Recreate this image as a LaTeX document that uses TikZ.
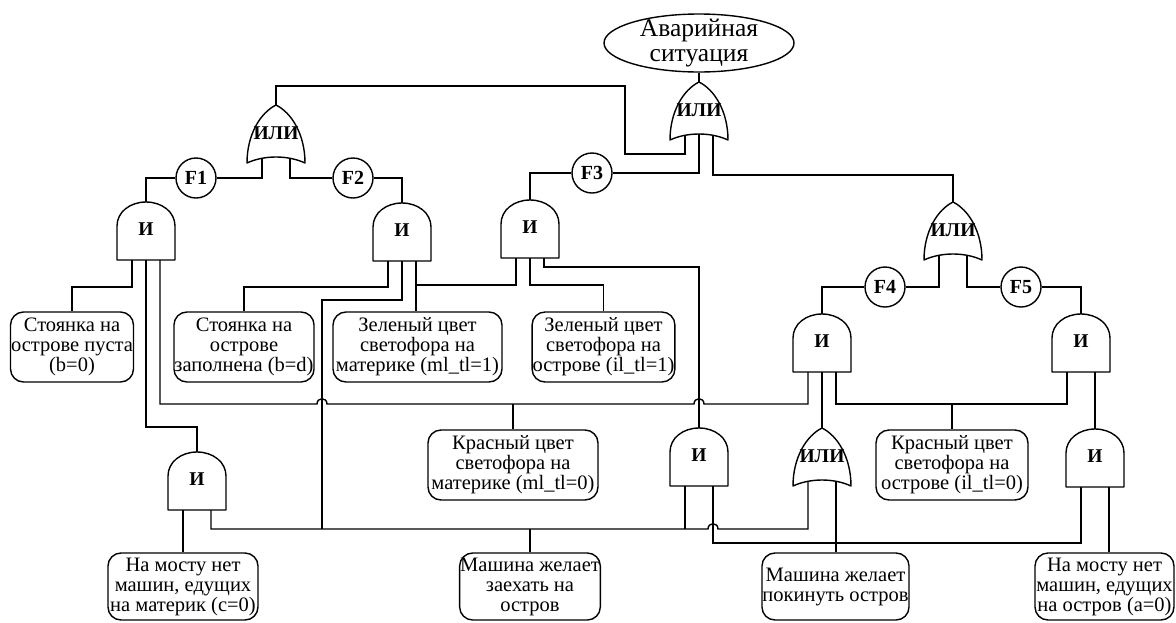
\documentclass[tikz,border=0pt]{standalone}
\usepackage{fontspec}
\setmainfont{Liberation Serif}
\usetikzlibrary{shapes.geometric,calc}

\tikzset{
  wire/.style={line width=1.4pt},
  gl/.style={line width=1.4pt, line join=round},
  gtxt/.style={font=\fontsize{19.5}{20}\selectfont\bfseries, inner sep=0pt},
  ev/.style={draw, line width=1.4pt, rounded corners=13pt, align=center, inner sep=0.5pt,
             font=\fontsize{20.5}{20}\selectfont},
  fc/.style={draw, circle, line width=1.4pt, minimum size=40pt, inner sep=0pt,
             font=\fontsize{20}{20}\selectfont\bfseries},
  topev/.style={draw, ellipse, line width=1.4pt, minimum width=190pt, minimum height=58pt,
             inner xsep=0pt, inner ysep=-5pt, align=center, font=\fontsize{25.5}{25}\selectfont},
}

% AND gate: name, centre x, top y
\newcommand\AndG[3]{%
  \draw[gl] (#2-29,#3+58) -- (#2-29,#3+24)
     .. controls (#2-29,#3+10) and (#2-16,#3) .. (#2,#3)
     .. controls (#2+16,#3) and (#2+29,#3+10) .. (#2+29,#3+24)
     -- (#2+29,#3+58) -- cycle;
  \node[gtxt] (#1) at (#2,#3+27) {И};
  \coordinate (#1-t) at (#2,#3);
  \coordinate (#1-l) at (#2-14,#3+58);
  \coordinate (#1-m) at (#2,#3+58);
  \coordinate (#1-r) at (#2+14,#3+58);
}
% OR gate: name, centre x, top y
\newcommand\OrG[3]{%
  \draw[gl] (#2-29,#3+58)
     .. controls (#2-29,#3+30) and (#2-16,#3+8) .. (#2,#3)
     .. controls (#2+16,#3+8) and (#2+29,#3+30) .. (#2+29,#3+58)
     .. controls (#2+12,#3+50) and (#2-12,#3+50) .. (#2-29,#3+58) -- cycle;
  \node[gtxt] (#1) at (#2,#3+28) {ИЛИ};
  \coordinate (#1-t) at (#2,#3);
  \coordinate (#1-l) at (#2-14,#3+53.5);
  \coordinate (#1-m) at (#2,#3+52);
  \coordinate (#1-r) at (#2+14,#3+53.5);
}

\begin{document}
\begin{tikzpicture}[x=1pt,y=-1pt]
\useasboundingbox (0,0) rectangle (1176,622);

% top event
\node[topev] (E) at (699,43) {Аварийная\\ситуация};

% gates
\OrG{G0}{699}{82}
\OrG{G1}{276}{105}
\OrG{G2}{953}{202}
\OrG{G3}{822}{428}
\AndG{A1}{146}{202}
\AndG{A2}{402}{203}
\AndG{A3}{530}{200}
\AndG{A4}{822}{314}
\AndG{A5}{1081}{314}
\AndG{A6}{197}{452}
\AndG{A7}{1095}{429}
\AndG{A8}{699}{428}

% transfer circles
\node[fc] (F1) at (196,178) {F1};
\node[fc] (F2) at (353,178) {F2};
\node[fc] (F3) at (592,173) {F3};
\node[fc] (F4) at (885,287) {F4};
\node[fc] (F5) at (1021,287) {F5};

% basic events
\node[ev, minimum width=120pt, minimum height=70pt] (B1) at (72,347) {Стоянка на\\острове пуста\\(b=0)};
\node[ev, minimum width=136pt, minimum height=70pt] (B2) at (244,347) {Стоянка на\\острове\\заполнена (b=d)};
\node[ev, minimum width=169pt, minimum height=70pt] (B3) at (417.5,347) {Зеленый цвет\\светофора на\\материке (ml\_tl=1)};
\node[ev, minimum width=139pt, minimum height=70pt] (B4) at (603.5,347) {Зеленый цвет\\светофора на\\острове (il\_tl=1)};
\node[ev, minimum width=170pt, minimum height=70pt] (B5) at (513,465) {Красный цвет\\светофора на\\материке (ml\_tl=0)};
\node[ev, minimum width=152pt, minimum height=70pt] (B6) at (952,465) {Красный цвет\\светофора на\\острове (il\_tl=0)};
\node[ev, minimum width=150pt, minimum height=67pt] (Bc) at (183,586.5) {На мосту нет\\машин, едущих\\на материк (c=0)};
\node[ev, minimum width=136pt, minimum height=67pt] (Bz) at (530,586.5) {Машина желает\\заехать на\\остров};
\node[ev, minimum width=147pt, minimum height=67pt] (Bp) at (835.5,586.5) {Машина желает\\покинуть остров};
\node[ev, minimum width=139pt, minimum height=67pt] (Ba) at (1104.5,586.5) {На мосту нет\\машин, едущих\\на остров (a=0)};

% connectors
\draw[wire] (E.south) -- (G0-t);
\draw[wire] (G0-l) |- (625,154) |- (G1-t |- 0,86) -- (G1-t);
\draw[wire] (G0-m) |- (F3);
\draw[wire] (F3) -| (A3-t);
\draw[wire] (G0-r) |- (G2-t |- 0,175) -- (G2-t);

\draw[wire] (G1-l) |- (F1);
\draw[wire] (F1) -| (A1-t);
\draw[wire] (G1-r) |- (F2);
\draw[wire] (F2) -| (A2-t);

\draw[wire] (G2-l) |- (F4);
\draw[wire] (F4) -| (A4-t);
\draw[wire] (G2-r) |- (F5);
\draw[wire] (F5) -| (A5-t);

\draw[wire] (A1-l) |- (B1.north |- 0,287) -- (B1.north);
\draw[wire] (A1-m) |- (A6-t |- 0,427) -- (A6-t);
\draw[wire] (A1-r) |- (317,404) .. controls (317,397) and (327,397) .. (327,404)
   -- (694,404) .. controls (694,397) and (704,397) .. (704,404) -| (A4-l);
\draw[wire] (B5.north) -- (B5.north |- 0,404);

\draw[wire] (A2-l) |- (B2.north |- 0,287) -- (B2.north);
\draw[wire] (A2-m) |- (322,300) -- (322,529);
\draw[wire] (A2-r) -- (A2-r |- B3.north);

\draw[wire] (A3-l) |- (A2-r |- 0,285);
\draw[wire] (A3-m) |- (B4.north |- 0,285) -- (B4.north);
\draw[wire] (A3-r) |- (A8-t |- 0,267) -- (A8-t);

\draw[wire] (A4-m) -- (G3-t);
\draw[wire] (A4-r) |- (A5-l |- 0,404) -- (A5-l);
\draw[wire] (B6.north) -- (B6.north |- 0,404);
\draw[wire] (A5-r) -- (A7-t);

\draw[wire] (A6-l) -- (A6-l |- Bc.north);
\draw[wire] (A6-r) |- (708,529) .. controls (708,522) and (718,522) .. (718,529) -| (G3-l);
\draw[wire] (Bz.north) -- (Bz.north |- 0,529);
\draw[wire] (A8-l) -- (A8-l |- 0,529);
\draw[wire] (A8-r) -- (A8-r |- 0,543) -| (A7-l);
\draw[wire] (G3-r) -- (G3-r |- Bp.north);
\draw[wire] (A7-r) -- (A7-r |- Ba.north);
\end{tikzpicture}
\end{document}
